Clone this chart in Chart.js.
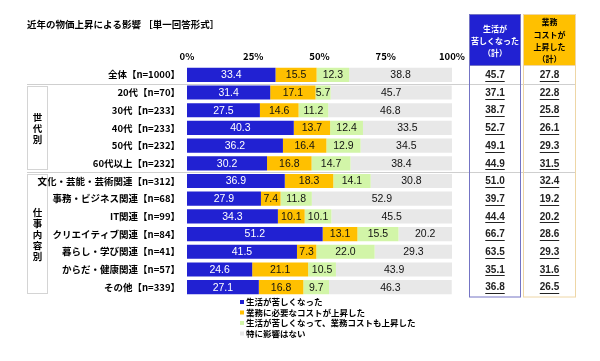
<!DOCTYPE html>
<html>
<head>
<meta charset="utf-8">
<script src="https://cdn.jsdelivr.net/npm/chart.js@4.4.1/dist/chart.umd.min.js"></script>
<style>
  html, body { margin: 0; padding: 0; background: #fff; }
  #wrap { width: 600px; height: 361px; position: relative; }
</style>
</head>
<body>
<div id="wrap"><canvas id="chart"></canvas></div>
<script>
// Chart data
const categories = [
  '全体【n=1000】',
  '20代【n=70】', '30代【n=233】', '40代【n=233】', '50代【n=232】', '60代以上【n=232】',
  '文化・芸能・芸術関連【n=312】', '事務・ビジネス関連【n=68】', 'IT関連【n=99】',
  'クリエイティブ関連【n=84】', '暮らし・学び関連【n=41】', 'からだ・健康関連【n=57】', 'その他【n=339】'
];
const seriesNames = [
  '生活が苦しくなった',
  '業務に必要なコストが上昇した',
  '生活が苦しくなって、業務コストも上昇した',
  '特に影響はない'
];
const livingHarder = [33.4, 31.4, 27.5, 40.3, 36.2, 30.2, 36.9, 27.9, 34.3, 51.2, 41.5, 24.6, 27.1];
const costRose     = [15.5, 17.1, 14.6, 13.7, 16.4, 16.8, 18.3, 7.4, 10.1, 13.1, 7.3, 21.1, 16.8];
const both         = [12.3, 5.7, 11.2, 12.4, 12.9, 14.7, 14.1, 11.8, 10.1, 15.5, 22.0, 10.5, 9.7];
const noEffect     = [38.8, 45.7, 46.8, 33.5, 34.5, 38.4, 30.8, 52.9, 45.5, 20.2, 29.3, 43.9, 46.3];
const livingTotal  = [45.7, 37.1, 38.7, 52.7, 49.1, 44.9, 51.0, 39.7, 44.4, 66.7, 63.5, 35.1, 36.8];
const costTotal    = [27.8, 22.8, 25.8, 26.1, 29.3, 31.5, 32.4, 19.2, 20.2, 28.6, 29.3, 31.6, 26.5];
const xTicks = [0, 25, 50, 75, 100];

const colors = ['#2121D2', '#FFC000', '#D2F5A8', '#E8E8E8'];
const jp = '"Noto Sans CJK JP", sans-serif';
const num = '"Liberation Sans", Arial, sans-serif';

// Draws title, group boxes, right-hand total columns, labels and legend
const overlay = {
  id: 'overlay',
  beforeDatasetsDraw(chart) {
    const { ctx } = chart;
    const y = chart.scales.y;
    ctx.save();

    // separator lines
    ctx.strokeStyle = '#cfcfcf';
    ctx.lineWidth = 1;
    [0.5, 5.5].forEach(v => {
      const py = Math.round(y.getPixelForValue(v)) + 0.5;
      ctx.beginPath(); ctx.moveTo(27, py); ctx.lineTo(576, py); ctx.stroke();
    });

    // group boxes
    ctx.strokeStyle = '#d4d4d4';
    const groups = [
      { from: 0.5, to: 5.5, text: '世代別' },
      { from: 5.5, to: 12.5, text: '仕事内容別' }
    ];
    groups.forEach(g => {
      const top = Math.round(y.getPixelForValue(g.from)) + 2.5;
      const bottom = Math.round(y.getPixelForValue(g.to)) - 2.5;
      ctx.strokeRect(27.5, top, 20, bottom - top);
      ctx.fillStyle = '#000';
      ctx.font = 'bold 9.5px ' + jp;
      ctx.textAlign = 'center';
      ctx.textBaseline = 'middle';
      const mid = (top + bottom) / 2;
      const step = 11;
      const chars = [...g.text];
      chars.forEach((ch, i) => {
        ctx.fillText(ch, 37.5, mid + (i - (chars.length - 1) / 2) * step);
      });
    });
    ctx.restore();
  },
  afterDatasetsDraw(chart) {
    const { ctx } = chart;
    const y = chart.scales.y;
    ctx.save();

    // value labels inside bars
    ctx.textAlign = 'center';
    ctx.textBaseline = 'middle';
    ctx.font = '10.5px ' + num;
    chart.data.datasets.forEach((ds, di) => {
      const meta = chart.getDatasetMeta(di);
      meta.data.forEach((el, i) => {
        const cx = (el.x + el.base) / 2;
        ctx.fillStyle = di === 0 ? '#fff' : '#111';
        ctx.fillText(ds.data[i].toFixed(1), cx, el.y + 0.5);
      });
    });

    // title
    ctx.fillStyle = '#000';
    ctx.textAlign = 'left';
    ctx.font = 'bold 9.5px ' + jp;
    ctx.fillText('近年の物価上昇による影響 ［単一回答形式］', 27, 24);

    // total columns
    const top = 14, bottom = Math.round(y.getPixelForValue(12.5)) + 0.5;
    const cols = [
      { x: 469, w: 52, fill: '#2121D2', border: '#7474C4', color: '#fff',
        lines: ['生活が', '苦しくなった', '（計）'], lineY: [29, 41, 53], data: livingTotal },
      { x: 523, w: 53, fill: '#FFC000', border: '#EED6A6', color: '#000',
        lines: ['業務', 'コストが', '上昇した', '（計）'], lineY: [22, 34.5, 47, 59], data: costTotal }
    ];
    cols.forEach(c => {
      const hb = Math.round(y.getPixelForValue(-0.5)) - 1;
      ctx.fillStyle = c.fill;
      ctx.fillRect(c.x, top, c.w, hb - top);
      ctx.strokeStyle = c.border;
      ctx.lineWidth = 1;
      ctx.strokeRect(c.x + 0.5, top + 0.5, c.w - 1, bottom - top);
      ctx.beginPath(); ctx.moveTo(c.x, hb + 0.5); ctx.lineTo(c.x + c.w, hb + 0.5); ctx.stroke();
      const cx = c.x + c.w / 2;
      ctx.fillStyle = c.color;
      ctx.textAlign = 'center';
      ctx.font = 'bold 8px ' + jp;
      c.lines.forEach((t, i) => ctx.fillText(t, cx, c.lineY[i]));

      ctx.fillStyle = '#222';
      ctx.strokeStyle = '#222';
      ctx.font = 'bold 10px ' + num;
      c.data.forEach((v, i) => {
        const py = y.getPixelForValue(i);
        const t = v.toFixed(1);
        ctx.fillText(t, cx, py + 0.5);
        const w = ctx.measureText(t).width;
        const uy = Math.round(py + 6) + 0.5;
        ctx.beginPath(); ctx.moveTo(cx - w / 2, uy); ctx.lineTo(cx + w / 2, uy); ctx.stroke();
      });
    });

    // legend
    ctx.textAlign = 'left';
    ctx.font = 'bold 8.5px ' + jp;
    chart.data.datasets.forEach((ds, i) => {
      const ly = 302 + i * 10.5;
      ctx.fillStyle = ds.backgroundColor;
      ctx.fillRect(240, ly - 2, 4, 4);
      ctx.fillStyle = '#000';
      ctx.fillText(ds.label, 246, ly);
    });
    ctx.restore();
  }
};

const seriesData = [livingHarder, costRose, both, noEffect];

new Chart(document.getElementById('chart'), {
  type: 'bar',
  data: {
    labels: categories,
    datasets: seriesNames.map((name, i) => ({
      label: name,
      data: seriesData[i],
      backgroundColor: colors[i],
      borderWidth: 0,
      categoryPercentage: 1,
      barPercentage: 0.8
    }))
  },
  options: {
    indexAxis: 'y',
    responsive: true,
    maintainAspectRatio: false,
    animation: false,
    layout: { padding: { left: 0, right: 148, top: 0, bottom: 65 } },
    plugins: {
      legend: { display: false },
      tooltip: { enabled: false }
    },
    scales: {
      x: {
        stacked: true,
        position: 'top',
        min: 0,
        max: 100,
        afterBuildTicks: scale => { scale.ticks = xTicks.map(v => ({ value: v })); },
        ticks: {
          callback: v => v + '%',
          color: '#000',
          padding: 4,
          maxRotation: 0,
          font: { family: jp, size: 9.5, weight: 'bold' }
        },
        grid: { display: false, drawTicks: false },
        border: { display: false },
        afterFit: scale => { scale.height = 66; }
      },
      y: {
        stacked: true,
        ticks: {
          color: '#000',
          padding: 7,
          font: { family: jp, size: 9.5, weight: 'bold' }
        },
        grid: { display: false, drawTicks: false },
        border: { display: false },
        afterFit: scale => { scale.width = 187; }
      }
    }
  },
  plugins: [overlay]
});
</script>
</body>
</html>
